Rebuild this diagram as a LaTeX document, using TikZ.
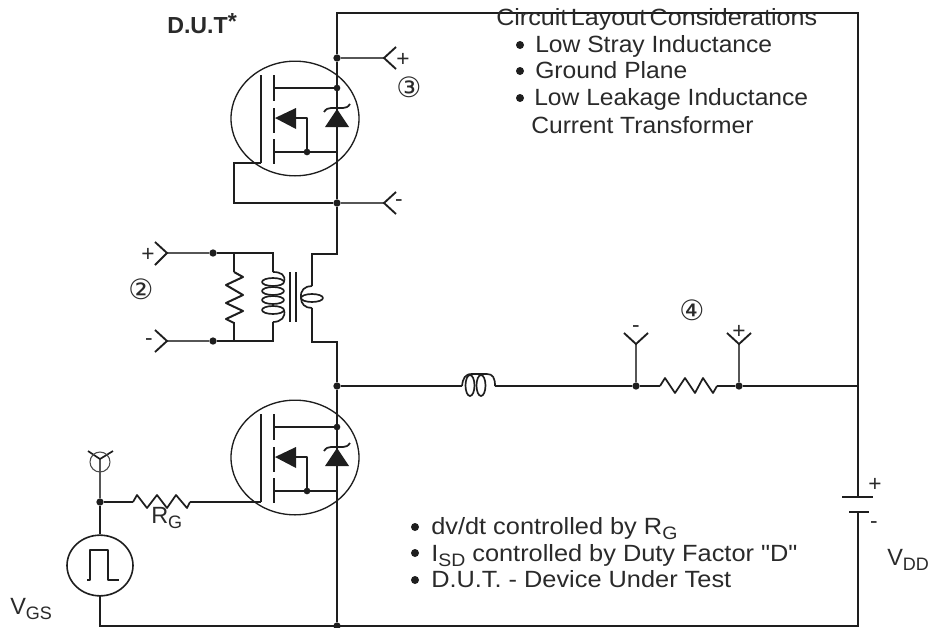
\documentclass[tikz,border=0pt]{standalone}
\usepackage{fontspec}
\usetikzlibrary{shapes.geometric}
\setmainfont{Liberation Sans}
\newfontfamily\symfont{DejaVu Sans}
\newfontfamily\topfont{Liberation Sans}[FakeStretch=1.05]
\newfontfamily\headfont{Liberation Sans}[FakeStretch=1.07,WordSpace=0.5]
\newfontfamily\lowfont{Liberation Sans}[FakeStretch=1.08]
\definecolor{ink}{HTML}{1E1E1E}
\definecolor{txt}{HTML}{2A2A2A}
\newcommand{\subs}[1]{\smash{\raisebox{-.25em}{\fontsize{13.5}{15}\selectfont #1}}}
\tikzset{
  wire/.style={draw=ink,line width=2.1pt,line join=miter},
  thin wire/.style={draw=ink!75,line width=1pt},
  part/.style={draw=ink,line width=1.25pt,line join=round},
  plate/.style={draw=ink,line width=2.2pt},
  lab/.style={anchor=base west,inner sep=0pt,text=txt,font=\fontsize{17.6}{20}\selectfont},
  toplab/.style={lab,font=\topfont\fontsize{17.6}{20}\selectfont},
  headlab/.style={lab,font=\headfont\fontsize{17.6}{20}\selectfont},
  lowlab/.style={lab,font=\lowfont\fontsize{17.6}{20}\selectfont},
  sign/.style={anchor=center,inner sep=0pt,text=txt,font=\fontsize{17}{20}\selectfont},
  circled/.style={anchor=center,inner sep=0pt,text=txt,font=\symfont\fontsize{21}{24}\selectfont},
  bullet/.style={circle,fill=ink,inner sep=0pt,minimum size=6pt},
  junction/.style={circle,fill=ink,inner sep=0pt,minimum size=5.5pt},
  smalldot/.style={circle,fill=ink,inner sep=0pt,minimum size=5pt}
}
\newcommand{\mosfet}[1]{%
  \begin{scope}[shift={(0,#1)}]
    \node[draw=ink,line width=1pt,ellipse,minimum width=96pt,minimum height=86pt,inner sep=0pt] (mcircle#1) at (295,118.5) {};
    \draw[plate,line width=1.7pt] (261,75) -- (261,163);
    \draw[plate,line width=2pt] (274,75) -- (274,101) (274,108) -- (274,133) (274,139) -- (274,164);
    \draw[part,line width=1.5pt] (274,88) -- (337,88) (274,152) -- (337,152);
    \draw[part,line width=1.5pt] (294,118) -- (307,118) -- (307,152);
    \fill[ink] (275,118) -- (296,108) -- (296,129) -- cycle;
    \fill[ink] (337,109) -- (349,127) -- (325,127) -- cycle;
    \draw[part,line width=1.3pt] (324,112) .. controls (326,109) and (328,108) .. (331,108) -- (343,108) .. controls (346,108) and (348,107) .. (350,104);
    \node[smalldot] (mdrain#1) at (337,88) {};
    \node[smalldot] (mbody#1) at (307,152) {};
  \end{scope}}
\begin{document}
\begin{tikzpicture}[x=0.75pt,y=-0.75pt]
\useasboundingbox (0,0) rectangle (935,628);
\fill[white] (0,0) rectangle (935,628);
% junctions
\coordinate (tl) at (337,13);
\coordinate (tr) at (858,13);
\coordinate (br) at (858,626);
\coordinate (bl) at (100,626);
\coordinate (batp) at (858,497);
\coordinate (batn) at (858,512);
\node[junction] (j3p) at (337,58) {};
\node[junction] (j3n) at (337,203) {};
\node[junction] (jmid) at (337,386) {};
\node[junction] (jbot) at (337,626) {};
\node[junction] (j2p) at (213,253) {};
\node[junction] (j2n) at (213,341) {};
\node[junction] (j4n) at (636,386) {};
\node[junction] (j4p) at (739,386) {};
\node[junction] (jg) at (100,502) {};
\coordinate (jr) at (858,386);
% main loop
\draw[wire] (j3n) -- (337,254) -- (312,254) -- (312,286);
\draw[wire] (312,308) -- (312,342) -- (337,342) -- (jmid) -- (jbot);
\draw[wire] (j3n) -- (j3p) -- (tl) -- (tr) -- (batp);
\draw[wire] (batn) -- (br) -- (bl) -- (100,596);
\draw[plate] (842,497) -- (873,497);
\draw[plate] (849,512) -- (869,512);
% MOSFETs
\mosfet{0}
\mosfet{339}
\draw[wire] (261,163) -- (234,163) -- (234,203) -- (j3n);
% terminal 3
\coordinate (t3p) at (384,58);
\coordinate (t3n) at (384,203);
\draw[thin wire] (j3p) -- (t3p) (j3n) -- (t3n);
\draw[wire,line width=1.4pt] (396,47) -- (t3p) -- (396,69);
\draw[wire,line width=1.4pt] (396,192) -- (t3n) -- (396,214);
\node[sign] (s3p) at (403,60) {+};
\node[sign] (s3n) at (399,203) {-};
\node[circled] (n3) at (409,87) {③};
% terminal 2
\coordinate (t2p) at (167,253);
\coordinate (t2n) at (167,341);
\draw[thin wire] (t2p) -- (j2p) (t2n) -- (j2n);
\draw[wire,line width=1.4pt] (155,242) -- (t2p) -- (155,265);
\draw[wire,line width=1.4pt] (155,330) -- (t2n) -- (155,352);
\node[sign] (s2p) at (148,255) {+};
\node[sign] (s2n) at (149,342) {-};
\node[circled] (n2) at (141,289) {②};
% primary
\draw[wire] (j2p) -- (273,253) -- (273,272);
\draw[wire] (j2n) -- (273,341) -- (273,322);
\draw[wire] (234,253) -- (234,272);
\draw[wire] (234,341) -- (234,322);
\draw[part,line width=1.5pt] (234,272) -- (243,277) -- (226,285) -- (243,295) -- (226,303) -- (243,311) -- (226,319) -- (234,323);
% coil
\draw[part] (273,272) .. controls (281,272) and (286,275) .. (284,282);
\draw[part] (273,282) ellipse [x radius=11,y radius=4];
\draw[part] (273,291) ellipse [x radius=11,y radius=4];
\draw[part] (273,300) ellipse [x radius=11,y radius=4];
\draw[part] (273,310) ellipse [x radius=11,y radius=4];
\draw[part] (284,310) .. controls (286,317) and (281,322) .. (273,322);
\draw[part] (290,272) -- (290,322) (296,272) -- (296,322);
% secondary
\draw[part] (312,286) .. controls (305,286) and (300,290) .. (301,298);
\draw[part] (301,298) .. controls (301,304) and (305,308) .. (312,308);
\draw[part] (312,298) ellipse [x radius=11,y radius=4];
% horizontal branch
\draw[wire,line width=1.5pt] (jmid) -- (462,386);
\draw[part] (462,386) .. controls (463,378) and (465,374) .. (472,374) -- (487,374) .. controls (493,374) and (495,378) .. (495,386);
\draw[part] (470,385.5) ellipse [x radius=4.5,y radius=10.5];
\draw[part] (481,385.5) ellipse [x radius=4.5,y radius=10.5];
\draw[wire,line width=1.5pt] (495,386) -- (j4n) -- (660,386);
\draw[part,line width=1.3pt] (660,386) -- (665,378) -- (675,393) -- (685,378) -- (695,393) -- (703,378) -- (713,393) -- (717,386);
\draw[wire,line width=1.5pt] (717,386) -- (j4p) -- (jr);
% terminal 4
\coordinate (t4n) at (636,344);
\coordinate (t4p) at (739,344);
\draw[thin wire] (j4n) -- (t4n) (j4p) -- (t4p);
\draw[wire,line width=1.4pt] (624,333) -- (t4n) -- (648,333);
\draw[wire,line width=1.4pt] (727,333) -- (t4p) -- (751,333);
\node[sign] (s4n) at (636,329) {-};
\node[sign] (s4p) at (739,332) {+};
\node[circled] (n4) at (692,310) {④};
% gate
\coordinate (tg) at (100,459);
\draw[thin wire] (tg) -- (jg);
\draw[part] (88,451) -- (tg) -- (113,451);
\node[draw=ink!80,line width=.8pt,circle,minimum size=15pt,inner sep=0pt] (gring) at (100,462) {};
\draw[wire,line width=1.5pt] (jg) -- (133,502);
\draw[part,line width=1.3pt] (133,502) -- (137,495) -- (147,508) -- (157,495) -- (167,508) -- (176,495) -- (187,508) -- (190,502);
\draw[wire,line width=1.5pt] (190,502) -- (261,502);
\node[draw=ink,line width=1.2pt,ellipse,minimum width=49.5pt,minimum height=45.5pt,inner sep=0pt] (gen) at (100,565.5) {};
\draw[wire] (jg) -- (gen.north);
\draw[part,line width=.9pt] (87,580) -- (90,580) -- (90,550) -- (108,550) -- (108,580) -- (119,580);
% labels
\node[lab] (rg) at (151,523) {R\subs{G}};
\node[lab,font=\bfseries\fontsize{17.4}{20}\selectfont] (dut) at (167,33) {D.U.T\raisebox{.15em}{*}};
\node[headlab] (h0) at (496,25) {Circuit Layout Considerations};
\node[toplab] (h1) at (535,52) {Low Stray Inductance};
\node[toplab] (h2) at (535,78) {Ground Plane};
\node[toplab] (h3) at (534,105) {Low Leakage Inductance};
\node[toplab] (h4) at (531,133) {Current Transformer};
\node[bullet] (b1) at (520,45) {};
\node[bullet] (b2) at (520,71) {};
\node[bullet] (b3) at (520,98) {};
\node[lowlab] (l1) at (431,534) {dv/dt controlled by R\subs{G}};
\node[lowlab] (l2) at (431,561) {I\subs{SD} controlled by Duty Factor "D"};
\node[lowlab] (l3) at (431,587) {D.U.T. - Device Under Test};
\node[bullet] (c1) at (415,527) {};
\node[bullet] (c2) at (415,553) {};
\node[bullet] (c3) at (415,580) {};
\node[lab] (vdd) at (887,565) {V\subs{DD}};
\node[sign] (bp) at (875,485) {+};
\node[sign] (bn) at (874,525) {-};
\node[lab] (vgs) at (10,614) {V\subs{GS}};
\end{tikzpicture}
\end{document}
